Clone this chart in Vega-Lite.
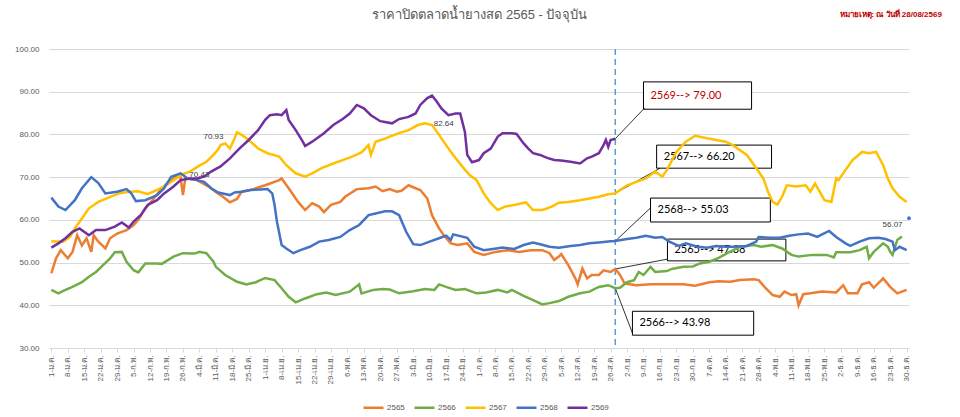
{
  "$schema": "https://vega.github.io/schema/vega-lite/v6.json",
  "autosize": "none",
  "width": 860,
  "height": 299,
  "padding": {"left": 49, "top": 49, "right": 51, "bottom": 69},
  "background": "white",
  "datasets": {
    "prices": [
      {"year": "2565", "day": 0, "value": 47.5}, {"year": "2565", "day": 2, "value": 51}, {"year": "2565", "day": 4, "value": 52.9},
      {"year": "2565", "day": 7, "value": 51}, {"year": "2565", "day": 9, "value": 52.5}, {"year": "2565", "day": 11, "value": 56.4},
      {"year": "2565", "day": 13, "value": 54}, {"year": "2565", "day": 15, "value": 55.7}, {"year": "2565", "day": 17, "value": 52.5},
      {"year": "2565", "day": 18, "value": 56.4}, {"year": "2565", "day": 20, "value": 54.9}, {"year": "2565", "day": 23, "value": 53.3},
      {"year": "2565", "day": 25, "value": 55.7}, {"year": "2565", "day": 28, "value": 56.8}, {"year": "2565", "day": 32, "value": 57.6},
      {"year": "2565", "day": 35, "value": 58.8}, {"year": "2565", "day": 37, "value": 60}, {"year": "2565", "day": 40, "value": 62.7},
      {"year": "2565", "day": 43, "value": 64.6}, {"year": "2565", "day": 47, "value": 67.4}, {"year": "2565", "day": 50, "value": 68.9},
      {"year": "2565", "day": 53, "value": 70.1}, {"year": "2565", "day": 55, "value": 70}, {"year": "2565", "day": 56, "value": 65.8},
      {"year": "2565", "day": 57, "value": 69.7}, {"year": "2565", "day": 62, "value": 69.3}, {"year": "2565", "day": 67, "value": 67.8},
      {"year": "2565", "day": 70, "value": 66.5}, {"year": "2565", "day": 73, "value": 65.4}, {"year": "2565", "day": 76, "value": 64.1},
      {"year": "2565", "day": 79, "value": 64.9}, {"year": "2565", "day": 81, "value": 66.6}, {"year": "2565", "day": 86, "value": 67.2},
      {"year": "2565", "day": 91, "value": 68.1}, {"year": "2565", "day": 97, "value": 69.3}, {"year": "2565", "day": 98, "value": 69.7},
      {"year": "2565", "day": 101, "value": 67.4}, {"year": "2565", "day": 105, "value": 64.2}, {"year": "2565", "day": 108, "value": 62.3},
      {"year": "2565", "day": 111, "value": 63.9}, {"year": "2565", "day": 114, "value": 63.1}, {"year": "2565", "day": 116, "value": 61.8},
      {"year": "2565", "day": 119, "value": 63.5}, {"year": "2565", "day": 123, "value": 64.2}, {"year": "2565", "day": 125, "value": 65.4},
      {"year": "2565", "day": 130, "value": 67.2}, {"year": "2565", "day": 135, "value": 67.4}, {"year": "2565", "day": 138, "value": 67.8},
      {"year": "2565", "day": 141, "value": 66.7}, {"year": "2565", "day": 144, "value": 67.2}, {"year": "2565", "day": 147, "value": 66.6},
      {"year": "2565", "day": 149, "value": 66.8}, {"year": "2565", "day": 152, "value": 68.1}, {"year": "2565", "day": 155, "value": 67.4},
      {"year": "2565", "day": 157, "value": 67}, {"year": "2565", "day": 160, "value": 65}, {"year": "2565", "day": 162, "value": 61.1},
      {"year": "2565", "day": 165, "value": 58}, {"year": "2565", "day": 167, "value": 56.4}, {"year": "2565", "day": 170, "value": 54.5},
      {"year": "2565", "day": 173, "value": 54.1}, {"year": "2565", "day": 177, "value": 54.5}, {"year": "2565", "day": 180, "value": 52.5},
      {"year": "2565", "day": 184, "value": 51.8}, {"year": "2565", "day": 189, "value": 52.5}, {"year": "2565", "day": 194, "value": 52.9},
      {"year": "2565", "day": 199, "value": 52.5}, {"year": "2565", "day": 204, "value": 52.9}, {"year": "2565", "day": 209, "value": 52.9},
      {"year": "2565", "day": 212, "value": 52.2}, {"year": "2565", "day": 214, "value": 50.6}, {"year": "2565", "day": 216, "value": 51.4},
      {"year": "2565", "day": 217, "value": 52}, {"year": "2565", "day": 220, "value": 49.4}, {"year": "2565", "day": 223, "value": 46.3},
      {"year": "2565", "day": 224, "value": 44.9}, {"year": "2565", "day": 226, "value": 48.6}, {"year": "2565", "day": 228, "value": 46.3},
      {"year": "2565", "day": 230, "value": 47.1}, {"year": "2565", "day": 233, "value": 47.1}, {"year": "2565", "day": 235, "value": 48.2},
      {"year": "2565", "day": 238, "value": 47.8}, {"year": "2565", "day": 240, "value": 48.5}, {"year": "2565", "day": 242, "value": 47.1},
      {"year": "2565", "day": 244, "value": 45.1}, {"year": "2565", "day": 249, "value": 44.7}, {"year": "2565", "day": 255, "value": 44.9},
      {"year": "2565", "day": 262, "value": 44.9}, {"year": "2565", "day": 269, "value": 44.9}, {"year": "2565", "day": 274, "value": 44.6},
      {"year": "2565", "day": 280, "value": 45.4}, {"year": "2565", "day": 284, "value": 45.6}, {"year": "2565", "day": 289, "value": 45.5},
      {"year": "2565", "day": 293, "value": 45.9}, {"year": "2565", "day": 299, "value": 46.1}, {"year": "2565", "day": 301, "value": 45.9},
      {"year": "2565", "day": 304, "value": 44}, {"year": "2565", "day": 307, "value": 42.4}, {"year": "2565", "day": 310, "value": 42},
      {"year": "2565", "day": 312, "value": 43.2}, {"year": "2565", "day": 315, "value": 42.4}, {"year": "2565", "day": 317, "value": 42.6},
      {"year": "2565", "day": 318, "value": 40}, {"year": "2565", "day": 320, "value": 42.6}, {"year": "2565", "day": 323, "value": 42.8},
      {"year": "2565", "day": 328, "value": 43.2}, {"year": "2565", "day": 334, "value": 43}, {"year": "2565", "day": 337, "value": 44.7},
      {"year": "2565", "day": 339, "value": 42.8}, {"year": "2565", "day": 343, "value": 42.8}, {"year": "2565", "day": 345, "value": 44.9},
      {"year": "2565", "day": 348, "value": 45.4}, {"year": "2565", "day": 350, "value": 44.1}, {"year": "2565", "day": 354, "value": 46.3},
      {"year": "2565", "day": 357, "value": 44.3}, {"year": "2565", "day": 360, "value": 42.8}, {"year": "2565", "day": 362, "value": 43.2},
      {"year": "2565", "day": 364, "value": 43.6},

      {"year": "2566", "day": 0, "value": 43.6}, {"year": "2566", "day": 3, "value": 42.8}, {"year": "2566", "day": 6, "value": 43.6},
      {"year": "2566", "day": 9, "value": 44.3}, {"year": "2566", "day": 13, "value": 45.4}, {"year": "2566", "day": 16, "value": 46.7},
      {"year": "2566", "day": 19, "value": 47.8}, {"year": "2566", "day": 22, "value": 49.4}, {"year": "2566", "day": 25, "value": 51},
      {"year": "2566", "day": 27, "value": 52.4}, {"year": "2566", "day": 30, "value": 52.5}, {"year": "2566", "day": 32, "value": 50.2},
      {"year": "2566", "day": 35, "value": 48.2}, {"year": "2566", "day": 37, "value": 47.7}, {"year": "2566", "day": 40, "value": 49.8},
      {"year": "2566", "day": 45, "value": 49.8}, {"year": "2566", "day": 47, "value": 49.7}, {"year": "2566", "day": 52, "value": 51.4},
      {"year": "2566", "day": 56, "value": 52.2}, {"year": "2566", "day": 61, "value": 52.1}, {"year": "2566", "day": 63, "value": 52.5},
      {"year": "2566", "day": 66, "value": 52.2}, {"year": "2566", "day": 69, "value": 50.2}, {"year": "2566", "day": 70, "value": 49},
      {"year": "2566", "day": 74, "value": 47.1}, {"year": "2566", "day": 79, "value": 45.5}, {"year": "2566", "day": 83, "value": 44.9},
      {"year": "2566", "day": 87, "value": 45.4}, {"year": "2566", "day": 91, "value": 46.4}, {"year": "2566", "day": 95, "value": 45.9},
      {"year": "2566", "day": 98, "value": 44}, {"year": "2566", "day": 101, "value": 42}, {"year": "2566", "day": 104, "value": 40.7},
      {"year": "2566", "day": 108, "value": 41.6}, {"year": "2566", "day": 113, "value": 42.6}, {"year": "2566", "day": 117, "value": 43},
      {"year": "2566", "day": 121, "value": 42.4}, {"year": "2566", "day": 127, "value": 43.2}, {"year": "2566", "day": 131, "value": 44.9},
      {"year": "2566", "day": 132, "value": 42.8}, {"year": "2566", "day": 137, "value": 43.6}, {"year": "2566", "day": 141, "value": 43.8},
      {"year": "2566", "day": 144, "value": 43.7}, {"year": "2566", "day": 148, "value": 42.8}, {"year": "2566", "day": 154, "value": 43.3},
      {"year": "2566", "day": 159, "value": 43.8}, {"year": "2566", "day": 163, "value": 43.6}, {"year": "2566", "day": 165, "value": 44.9},
      {"year": "2566", "day": 168, "value": 44.3}, {"year": "2566", "day": 172, "value": 43.6}, {"year": "2566", "day": 176, "value": 43.8},
      {"year": "2566", "day": 181, "value": 42.8}, {"year": "2566", "day": 185, "value": 43}, {"year": "2566", "day": 190, "value": 43.6},
      {"year": "2566", "day": 194, "value": 43}, {"year": "2566", "day": 196, "value": 43.6}, {"year": "2566", "day": 201, "value": 42.2},
      {"year": "2566", "day": 205, "value": 41.2}, {"year": "2566", "day": 209, "value": 40.2}, {"year": "2566", "day": 212, "value": 40.5},
      {"year": "2566", "day": 216, "value": 41}, {"year": "2566", "day": 220, "value": 42}, {"year": "2566", "day": 225, "value": 42.8},
      {"year": "2566", "day": 229, "value": 43.2}, {"year": "2566", "day": 233, "value": 44.3}, {"year": "2566", "day": 237, "value": 44.7},
      {"year": "2566", "day": 240, "value": 44}, {"year": "2566", "day": 242, "value": 44.1}, {"year": "2566", "day": 245, "value": 45.4},
      {"year": "2566", "day": 248, "value": 45.9}, {"year": "2566", "day": 250, "value": 47.8}, {"year": "2566", "day": 252, "value": 47.1},
      {"year": "2566", "day": 255, "value": 49}, {"year": "2566", "day": 257, "value": 47.8}, {"year": "2566", "day": 262, "value": 48},
      {"year": "2566", "day": 264, "value": 48.5}, {"year": "2566", "day": 269, "value": 49}, {"year": "2566", "day": 273, "value": 49.1},
      {"year": "2566", "day": 276, "value": 49.8}, {"year": "2566", "day": 280, "value": 50.2}, {"year": "2566", "day": 284, "value": 51.1},
      {"year": "2566", "day": 288, "value": 52.3}, {"year": "2566", "day": 293, "value": 53.7}, {"year": "2566", "day": 299, "value": 54.1},
      {"year": "2566", "day": 302, "value": 53.7}, {"year": "2566", "day": 307, "value": 54.1}, {"year": "2566", "day": 311, "value": 53.3},
      {"year": "2566", "day": 315, "value": 51.8}, {"year": "2566", "day": 318, "value": 51.4}, {"year": "2566", "day": 324, "value": 51.8},
      {"year": "2566", "day": 330, "value": 51.8}, {"year": "2566", "day": 333, "value": 51.2}, {"year": "2566", "day": 334, "value": 52.4},
      {"year": "2566", "day": 340, "value": 52.4}, {"year": "2566", "day": 344, "value": 52.9}, {"year": "2566", "day": 347, "value": 53.7},
      {"year": "2566", "day": 348, "value": 51}, {"year": "2566", "day": 350, "value": 52.5}, {"year": "2566", "day": 354, "value": 54.5},
      {"year": "2566", "day": 356, "value": 53.7}, {"year": "2566", "day": 357, "value": 52.5}, {"year": "2566", "day": 358, "value": 51.8},
      {"year": "2566", "day": 360, "value": 55.3}, {"year": "2566", "day": 362, "value": 56.1},

      {"year": "2567", "day": 0, "value": 55}, {"year": "2567", "day": 5, "value": 54.9}, {"year": "2567", "day": 8, "value": 56},
      {"year": "2567", "day": 10, "value": 58}, {"year": "2567", "day": 13, "value": 60.3}, {"year": "2567", "day": 16, "value": 62.7},
      {"year": "2567", "day": 20, "value": 64.2}, {"year": "2567", "day": 25, "value": 65.4}, {"year": "2567", "day": 29, "value": 66.2},
      {"year": "2567", "day": 33, "value": 66.6}, {"year": "2567", "day": 37, "value": 66.7}, {"year": "2567", "day": 41, "value": 66},
      {"year": "2567", "day": 45, "value": 67}, {"year": "2567", "day": 48, "value": 67.8}, {"year": "2567", "day": 52, "value": 69.3},
      {"year": "2567", "day": 56, "value": 70.7}, {"year": "2567", "day": 59, "value": 71.3}, {"year": "2567", "day": 63, "value": 72.7},
      {"year": "2567", "day": 66, "value": 73.6}, {"year": "2567", "day": 69, "value": 75.2}, {"year": "2567", "day": 71, "value": 76.5},
      {"year": "2567", "day": 72, "value": 77.5}, {"year": "2567", "day": 74, "value": 77.9}, {"year": "2567", "day": 76, "value": 76.7},
      {"year": "2567", "day": 78, "value": 79.1}, {"year": "2567", "day": 79, "value": 80.5}, {"year": "2567", "day": 81, "value": 79.9},
      {"year": "2567", "day": 84, "value": 78.7}, {"year": "2567", "day": 88, "value": 76.7}, {"year": "2567", "day": 92, "value": 75.6},
      {"year": "2567", "day": 97, "value": 74.8}, {"year": "2567", "day": 100, "value": 72.8}, {"year": "2567", "day": 104, "value": 70.9},
      {"year": "2567", "day": 108, "value": 70.1}, {"year": "2567", "day": 111, "value": 70.9}, {"year": "2567", "day": 115, "value": 72.1},
      {"year": "2567", "day": 120, "value": 73.2}, {"year": "2567", "day": 124, "value": 74}, {"year": "2567", "day": 128, "value": 74.8},
      {"year": "2567", "day": 132, "value": 75.8}, {"year": "2567", "day": 135, "value": 77.5}, {"year": "2567", "day": 136, "value": 75.2},
      {"year": "2567", "day": 138, "value": 78.3}, {"year": "2567", "day": 142, "value": 79}, {"year": "2567", "day": 144, "value": 79.5},
      {"year": "2567", "day": 148, "value": 80.3}, {"year": "2567", "day": 152, "value": 81}, {"year": "2567", "day": 156, "value": 82.2},
      {"year": "2567", "day": 159, "value": 82.6}, {"year": "2567", "day": 162, "value": 82.2}, {"year": "2567", "day": 165, "value": 79.9},
      {"year": "2567", "day": 168, "value": 77.5}, {"year": "2567", "day": 171, "value": 75.2}, {"year": "2567", "day": 175, "value": 72.4},
      {"year": "2567", "day": 178, "value": 70.5}, {"year": "2567", "day": 181, "value": 69.3}, {"year": "2567", "day": 184, "value": 66.2},
      {"year": "2567", "day": 187, "value": 63.9}, {"year": "2567", "day": 190, "value": 62.3}, {"year": "2567", "day": 193, "value": 63.1},
      {"year": "2567", "day": 197, "value": 63.5}, {"year": "2567", "day": 202, "value": 64.1}, {"year": "2567", "day": 205, "value": 62.3},
      {"year": "2567", "day": 209, "value": 62.3}, {"year": "2567", "day": 213, "value": 63.1}, {"year": "2567", "day": 216, "value": 64},
      {"year": "2567", "day": 220, "value": 64.2}, {"year": "2567", "day": 225, "value": 64.6}, {"year": "2567", "day": 229, "value": 65},
      {"year": "2567", "day": 233, "value": 65.4}, {"year": "2567", "day": 237, "value": 66}, {"year": "2567", "day": 240, "value": 66.2},
      {"year": "2567", "day": 245, "value": 68.1}, {"year": "2567", "day": 249, "value": 68.9}, {"year": "2567", "day": 253, "value": 69.7},
      {"year": "2567", "day": 257, "value": 71.3}, {"year": "2567", "day": 260, "value": 70.1}, {"year": "2567", "day": 262, "value": 71.7},
      {"year": "2567", "day": 266, "value": 75.9}, {"year": "2567", "day": 270, "value": 78.3}, {"year": "2567", "day": 274, "value": 79.7},
      {"year": "2567", "day": 279, "value": 79.1}, {"year": "2567", "day": 283, "value": 78.7}, {"year": "2567", "day": 287, "value": 78.3},
      {"year": "2567", "day": 290, "value": 77.5}, {"year": "2567", "day": 296, "value": 75.2}, {"year": "2567", "day": 300, "value": 72.1},
      {"year": "2567", "day": 303, "value": 69.7}, {"year": "2567", "day": 305, "value": 66.6}, {"year": "2567", "day": 307, "value": 64.2},
      {"year": "2567", "day": 309, "value": 63.6}, {"year": "2567", "day": 311, "value": 65.4}, {"year": "2567", "day": 313, "value": 68.1},
      {"year": "2567", "day": 317, "value": 67.8}, {"year": "2567", "day": 321, "value": 68.1}, {"year": "2567", "day": 323, "value": 66.6},
      {"year": "2567", "day": 325, "value": 68.5}, {"year": "2567", "day": 327, "value": 66.6}, {"year": "2567", "day": 329, "value": 64.6},
      {"year": "2567", "day": 332, "value": 64.2}, {"year": "2567", "day": 334, "value": 69.7}, {"year": "2567", "day": 335, "value": 69.3},
      {"year": "2567", "day": 338, "value": 71.7}, {"year": "2567", "day": 341, "value": 74}, {"year": "2567", "day": 345, "value": 75.9},
      {"year": "2567", "day": 348, "value": 75.6}, {"year": "2567", "day": 351, "value": 75.9}, {"year": "2567", "day": 354, "value": 72.8},
      {"year": "2567", "day": 356, "value": 69.7}, {"year": "2567", "day": 358, "value": 67.4}, {"year": "2567", "day": 361, "value": 65.4},
      {"year": "2567", "day": 364, "value": 64.2},

      {"year": "2568", "day": 0, "value": 65.2}, {"year": "2568", "day": 3, "value": 63.1}, {"year": "2568", "day": 6, "value": 62.3},
      {"year": "2568", "day": 10, "value": 64.6}, {"year": "2568", "day": 13, "value": 67.4}, {"year": "2568", "day": 17, "value": 70},
      {"year": "2568", "day": 20, "value": 68.6}, {"year": "2568", "day": 23, "value": 66.2}, {"year": "2568", "day": 28, "value": 66.6},
      {"year": "2568", "day": 32, "value": 67.2}, {"year": "2568", "day": 34, "value": 66.2}, {"year": "2568", "day": 36, "value": 64.4},
      {"year": "2568", "day": 40, "value": 64.6}, {"year": "2568", "day": 45, "value": 65.8}, {"year": "2568", "day": 48, "value": 67.4},
      {"year": "2568", "day": 51, "value": 70.1}, {"year": "2568", "day": 55, "value": 70.9}, {"year": "2568", "day": 58, "value": 69.7},
      {"year": "2568", "day": 62, "value": 69.3}, {"year": "2568", "day": 65, "value": 68.9}, {"year": "2568", "day": 68, "value": 67.4},
      {"year": "2568", "day": 71, "value": 66.4}, {"year": "2568", "day": 76, "value": 65.8}, {"year": "2568", "day": 78, "value": 66.4},
      {"year": "2568", "day": 81, "value": 66.6}, {"year": "2568", "day": 85, "value": 67}, {"year": "2568", "day": 89, "value": 67.1},
      {"year": "2568", "day": 92, "value": 67.2}, {"year": "2568", "day": 94, "value": 66.2}, {"year": "2568", "day": 95, "value": 63.5},
      {"year": "2568", "day": 96, "value": 59.6}, {"year": "2568", "day": 98, "value": 54.1}, {"year": "2568", "day": 100, "value": 53.3},
      {"year": "2568", "day": 103, "value": 52.2}, {"year": "2568", "day": 106, "value": 52.9}, {"year": "2568", "day": 110, "value": 53.7},
      {"year": "2568", "day": 114, "value": 54.9}, {"year": "2568", "day": 118, "value": 55.3}, {"year": "2568", "day": 123, "value": 56},
      {"year": "2568", "day": 127, "value": 57.6}, {"year": "2568", "day": 131, "value": 58.8}, {"year": "2568", "day": 135, "value": 61.1},
      {"year": "2568", "day": 138, "value": 61.5}, {"year": "2568", "day": 142, "value": 62}, {"year": "2568", "day": 145, "value": 62},
      {"year": "2568", "day": 148, "value": 61.1}, {"year": "2568", "day": 151, "value": 57.2}, {"year": "2568", "day": 154, "value": 54.3},
      {"year": "2568", "day": 157, "value": 54.1}, {"year": "2568", "day": 161, "value": 54.9}, {"year": "2568", "day": 165, "value": 55.7},
      {"year": "2568", "day": 168, "value": 56.3}, {"year": "2568", "day": 170, "value": 55.3}, {"year": "2568", "day": 171, "value": 56.6},
      {"year": "2568", "day": 177, "value": 55.8}, {"year": "2568", "day": 180, "value": 53.7}, {"year": "2568", "day": 184, "value": 52.9},
      {"year": "2568", "day": 188, "value": 53.2}, {"year": "2568", "day": 192, "value": 53.5}, {"year": "2568", "day": 197, "value": 53.2},
      {"year": "2568", "day": 201, "value": 54.1}, {"year": "2568", "day": 205, "value": 54.7}, {"year": "2568", "day": 208, "value": 54.3},
      {"year": "2568", "day": 212, "value": 53.7}, {"year": "2568", "day": 216, "value": 53.5}, {"year": "2568", "day": 221, "value": 53.9},
      {"year": "2568", "day": 225, "value": 54.1}, {"year": "2568", "day": 229, "value": 54.5}, {"year": "2568", "day": 233, "value": 54.7},
      {"year": "2568", "day": 238, "value": 55}, {"year": "2568", "day": 240, "value": 55.03}, {"year": "2568", "day": 245, "value": 55.5},
      {"year": "2568", "day": 249, "value": 55.8}, {"year": "2568", "day": 253, "value": 56.3}, {"year": "2568", "day": 257, "value": 55.8},
      {"year": "2568", "day": 260, "value": 56}, {"year": "2568", "day": 263, "value": 54.9}, {"year": "2568", "day": 267, "value": 53.9},
      {"year": "2568", "day": 270, "value": 54.5}, {"year": "2568", "day": 275, "value": 53.7}, {"year": "2568", "day": 279, "value": 53.5},
      {"year": "2568", "day": 283, "value": 53.9}, {"year": "2568", "day": 287, "value": 53.7}, {"year": "2568", "day": 290, "value": 53.7},
      {"year": "2568", "day": 296, "value": 53.9}, {"year": "2568", "day": 300, "value": 54.9}, {"year": "2568", "day": 301, "value": 56},
      {"year": "2568", "day": 306, "value": 55.8}, {"year": "2568", "day": 310, "value": 55.8}, {"year": "2568", "day": 314, "value": 56.3},
      {"year": "2568", "day": 318, "value": 56.6}, {"year": "2568", "day": 322, "value": 56.8}, {"year": "2568", "day": 326, "value": 56},
      {"year": "2568", "day": 328, "value": 56.6}, {"year": "2568", "day": 331, "value": 57.4}, {"year": "2568", "day": 334, "value": 56},
      {"year": "2568", "day": 338, "value": 54.5}, {"year": "2568", "day": 340, "value": 53.9}, {"year": "2568", "day": 344, "value": 54.9},
      {"year": "2568", "day": 348, "value": 55.7}, {"year": "2568", "day": 352, "value": 55.8}, {"year": "2568", "day": 355, "value": 55.5},
      {"year": "2568", "day": 358, "value": 54.9}, {"year": "2568", "day": 359, "value": 52.9}, {"year": "2568", "day": 361, "value": 53.7},
      {"year": "2568", "day": 364, "value": 52.9},

      {"year": "2569", "day": 0, "value": 53.5}, {"year": "2569", "day": 3, "value": 54.5}, {"year": "2569", "day": 6, "value": 55.7},
      {"year": "2569", "day": 9, "value": 57.2}, {"year": "2569", "day": 12, "value": 58}, {"year": "2569", "day": 16, "value": 56.4},
      {"year": "2569", "day": 19, "value": 57.6}, {"year": "2569", "day": 23, "value": 57.6}, {"year": "2569", "day": 27, "value": 58.4},
      {"year": "2569", "day": 30, "value": 59.4}, {"year": "2569", "day": 33, "value": 58.2}, {"year": "2569", "day": 35, "value": 59.6},
      {"year": "2569", "day": 38, "value": 61.1}, {"year": "2569", "day": 41, "value": 63.5}, {"year": "2569", "day": 45, "value": 64.6},
      {"year": "2569", "day": 48, "value": 66.2}, {"year": "2569", "day": 52, "value": 67.8}, {"year": "2569", "day": 55, "value": 69.3},
      {"year": "2569", "day": 59, "value": 69.7}, {"year": "2569", "day": 62, "value": 69.7}, {"year": "2569", "day": 65, "value": 70.1},
      {"year": "2569", "day": 68, "value": 71.3}, {"year": "2569", "day": 72, "value": 72.5}, {"year": "2569", "day": 76, "value": 74.4},
      {"year": "2569", "day": 80, "value": 76.7}, {"year": "2569", "day": 84, "value": 78.7}, {"year": "2569", "day": 88, "value": 81},
      {"year": "2569", "day": 91, "value": 83.4}, {"year": "2569", "day": 93, "value": 84.5}, {"year": "2569", "day": 96, "value": 84.7},
      {"year": "2569", "day": 98, "value": 84.5}, {"year": "2569", "day": 100, "value": 85.7}, {"year": "2569", "day": 101, "value": 83.4},
      {"year": "2569", "day": 104, "value": 81}, {"year": "2569", "day": 107, "value": 78.3}, {"year": "2569", "day": 108, "value": 77.3},
      {"year": "2569", "day": 111, "value": 78.3}, {"year": "2569", "day": 116, "value": 80.3}, {"year": "2569", "day": 120, "value": 82.2},
      {"year": "2569", "day": 124, "value": 83.6}, {"year": "2569", "day": 127, "value": 84.9}, {"year": "2569", "day": 130, "value": 86.9},
      {"year": "2569", "day": 133, "value": 86.1}, {"year": "2569", "day": 136, "value": 84.5}, {"year": "2569", "day": 140, "value": 83.1},
      {"year": "2569", "day": 142, "value": 82.9}, {"year": "2569", "day": 145, "value": 82.6}, {"year": "2569", "day": 148, "value": 83.6},
      {"year": "2569", "day": 152, "value": 84.1}, {"year": "2569", "day": 155, "value": 84.9}, {"year": "2569", "day": 157, "value": 86.9},
      {"year": "2569", "day": 160, "value": 88.5}, {"year": "2569", "day": 162, "value": 89.1}, {"year": "2569", "day": 164, "value": 87.7},
      {"year": "2569", "day": 166, "value": 86.1}, {"year": "2569", "day": 169, "value": 84.5}, {"year": "2569", "day": 172, "value": 84.9},
      {"year": "2569", "day": 174, "value": 84.9}, {"year": "2569", "day": 176, "value": 80.6}, {"year": "2569", "day": 177, "value": 75.2},
      {"year": "2569", "day": 179, "value": 73.5}, {"year": "2569", "day": 182, "value": 74}, {"year": "2569", "day": 184, "value": 75.6},
      {"year": "2569", "day": 187, "value": 76.7}, {"year": "2569", "day": 190, "value": 79.5}, {"year": "2569", "day": 192, "value": 80.3},
      {"year": "2569", "day": 196, "value": 80.3}, {"year": "2569", "day": 198, "value": 80.1}, {"year": "2569", "day": 201, "value": 77.9},
      {"year": "2569", "day": 203, "value": 76.7}, {"year": "2569", "day": 205, "value": 75.6}, {"year": "2569", "day": 208, "value": 75.2},
      {"year": "2569", "day": 211, "value": 74.5}, {"year": "2569", "day": 214, "value": 74}, {"year": "2569", "day": 217, "value": 73.9},
      {"year": "2569", "day": 221, "value": 73.6}, {"year": "2569", "day": 225, "value": 73.2}, {"year": "2569", "day": 228, "value": 74.4},
      {"year": "2569", "day": 230, "value": 74.8}, {"year": "2569", "day": 233, "value": 75.6}, {"year": "2569", "day": 235, "value": 77.5},
      {"year": "2569", "day": 236, "value": 78.7}, {"year": "2569", "day": 237, "value": 77.1}, {"year": "2569", "day": 238, "value": 78.7},
      {"year": "2569", "day": 240, "value": 79}
    ],
    "callouts": [
      {"series": "2569", "text": "2569--> 79.00", "day": 240, "value": 79.0, "endDay": 252.5, "endValue": 86.2, "boxDay": 252, "boxDay2": 298, "boxValue": 85.9, "boxValue2": 92.3, "textValue": 89.1},
      {"series": "2567", "text": "2567--> 66.20", "day": 240, "value": 66.2, "endDay": 259, "endValue": 72.1, "boxDay": 257.6, "boxDay2": 306.5, "boxValue": 72.1, "boxValue2": 77.5, "textValue": 74.8},
      {"series": "2568", "text": "2568--> 55.03", "day": 240, "value": 55.03, "endDay": 255, "endValue": 62.8, "boxDay": 255, "boxDay2": 306, "boxValue": 59.5, "boxValue2": 65.1, "textValue": 62.3},
      {"series": "2565", "text": "2565--> 47.38", "day": 240, "value": 48.5, "endDay": 262.2, "endValue": 50.8, "boxDay": 262.2, "boxDay2": 312.6, "boxValue": 50.4, "boxValue2": 55.5, "textValue": 52.9},
      {"series": "2566", "text": "2566--> 43.98", "day": 240, "value": 44.0, "endDay": 247.3, "endValue": 33.5, "boxDay": 247.3, "boxDay2": 298.9, "boxValue": 33.0, "boxValue2": 38.6, "textValue": 35.8}
    ],
    "labels": [
      {"text": "70.93", "day": 69, "value": 79.4},
      {"text": "70.43", "day": 63, "value": 70.5},
      {"text": "82.64", "day": 167, "value": 82.4},
      {"text": "56.07", "day": 358, "value": 58.8}
    ],
    "marker": [
      {"day": 365, "value": 60.4}
    ],
    "heading": [
      {"text": "ราคาปิดตลาดน้ำยางสด 2565 - ปัจจุบัน", "day": 182.4, "value": 108}
    ],
    "note": [
      {"text": "หมายเหตุ: ณ วันที่ 28/08/2569", "day": 379, "value": 108}
    ],
    "cutoff": [
      {"day": 240}
    ]
  },
  "layer": [
    {
      "data": {"name": "cutoff"},
      "mark": {"type": "rule", "color": "#5B9BD5", "strokeDash": [6, 4], "strokeWidth": 1.5},
      "encoding": {
        "x": {"field": "day", "type": "quantitative", "title": null, "scale": {"domain": [-1, 365], "nice": false, "zero": false}}
      }
    },
    {
      "data": {"name": "callouts"},
      "mark": {"type": "rect", "fill": "white", "stroke": "black", "strokeWidth": 1},
      "encoding": {
        "x": {"field": "boxDay", "type": "quantitative", "title": null, "scale": {"domain": [-1, 365], "nice": false, "zero": false}},
        "x2": {"field": "boxDay2"},
        "y": {"field": "boxValue", "type": "quantitative", "title": null, "scale": {"domain": [30, 100], "nice": false, "zero": false}},
        "y2": {"field": "boxValue2"}
      }
    },
    {
      "data": {"name": "callouts"},
      "mark": {"type": "text", "align": "left", "baseline": "middle", "dx": 7, "fontSize": 11, "font": "Lato"},
      "encoding": {
        "x": {"field": "boxDay", "type": "quantitative", "title": null, "scale": {"domain": [-1, 365], "nice": false, "zero": false}},
        "y": {"field": "textValue", "type": "quantitative", "title": null, "scale": {"domain": [30, 100], "nice": false, "zero": false}},
        "text": {"field": "text"},
        "color": {"condition": {"test": "datum.series === '2569'", "value": "#C00000"}, "value": "#000000"}
      }
    },
    {
      "data": {"name": "callouts"},
      "mark": {"type": "rule", "color": "#000000", "strokeWidth": 0.8},
      "encoding": {
        "x": {"field": "day", "type": "quantitative", "title": null, "scale": {"domain": [-1, 365], "nice": false, "zero": false}},
        "x2": {"field": "endDay"},
        "y": {"field": "value", "type": "quantitative", "title": null, "scale": {"domain": [30, 100], "nice": false, "zero": false}},
        "y2": {"field": "endValue"}
      }
    },
    {
      "data": {"name": "prices"},
      "mark": {"type": "line", "strokeWidth": 2.5, "interpolate": "linear"},
      "encoding": {
        "x": {
          "field": "day", "type": "quantitative", "title": null,
          "scale": {"domain": [-1, 365], "nice": false, "zero": false},
          "axis": {
            "values": [0, 7, 14, 21, 28, 35, 42, 49, 56, 63, 70, 77, 84, 91, 98, 105, 112, 119, 126, 133, 140, 147, 154, 161, 168, 175, 182, 189, 196, 203, 210, 217, 224, 231, 238, 245, 252, 259, 266, 273, 280, 287, 294, 301, 308, 315, 322, 329, 336, 343, 350, 357, 364],
            "tickCount": 60,
            "labelExpr": "date(datetime(2024, 0, 1 + datum.value)) + '-' + ['ม.ค.','ก.พ.','มี.ค.','เม.ย.','พ.ค.','มิ.ย.','ก.ค.','ส.ค.','ก.ย.','ต.ค.','พ.ย.','ธ.ค.'][month(datetime(2024, 0, 1 + datum.value))]",
            "labelAngle": -90,
            "labelFontSize": 8,
            "labelColor": "#595959",
            "labelOverlap": false,
            "labelPadding": 3,
            "grid": false,
            "ticks": true,
            "tickSize": 4,
            "tickColor": "#d9d9d9",
            "domainColor": "#d9d9d9"
          }
        },
        "y": {
          "field": "value", "type": "quantitative", "title": null,
          "scale": {"domain": [30, 100], "nice": false, "zero": false},
          "axis": {
            "values": [30, 40, 50, 60, 70, 80, 90, 100],
            "tickCount": 10,
            "format": ".2f",
            "grid": true,
            "gridColor": "#d9d9d9",
            "domain": false,
            "ticks": false,
            "labelFontSize": 8,
            "labelColor": "#595959",
            "labelPadding": 10
          }
        },
        "color": {
          "field": "year", "type": "nominal",
          "scale": {"domain": ["2565", "2566", "2567", "2568", "2569"], "range": ["#ED7D31", "#70AD47", "#FFC000", "#4472C4", "#7030A0"]},
          "legend": {
            "title": null,
            "orient": "none",
            "legendX": 313,
            "legendY": 347,
            "direction": "horizontal",
            "symbolType": "stroke",
            "symbolSize": 400,
            "symbolStrokeWidth": 2.5,
            "labelFontSize": 8,
            "labelColor": "#595959",
            "labelOffset": 2,
            "columnPadding": 4
          }
        }
      }
    },
    {
      "data": {"name": "labels"},
      "mark": {"type": "text", "fontSize": 8, "color": "#404040", "baseline": "middle"},
      "encoding": {
        "x": {"field": "day", "type": "quantitative", "title": null, "scale": {"domain": [-1, 365], "nice": false, "zero": false}},
        "y": {"field": "value", "type": "quantitative", "title": null, "scale": {"domain": [30, 100], "nice": false, "zero": false}},
        "text": {"field": "text"}
      }
    },
    {
      "data": {"name": "marker"},
      "mark": {"type": "point", "filled": true, "color": "#4472C4", "size": 14, "opacity": 1},
      "encoding": {
        "x": {"field": "day", "type": "quantitative", "title": null, "scale": {"domain": [-1, 365], "nice": false, "zero": false}},
        "y": {"field": "value", "type": "quantitative", "title": null, "scale": {"domain": [30, 100], "nice": false, "zero": false}}
      }
    },
    {
      "data": {"name": "heading"},
      "mark": {"type": "text", "align": "center", "baseline": "middle", "fontSize": 13, "color": "#595959"},
      "encoding": {
        "x": {"field": "day", "type": "quantitative", "title": null, "scale": {"domain": [-1, 365], "nice": false, "zero": false}},
        "y": {"field": "value", "type": "quantitative", "title": null, "scale": {"domain": [30, 100], "nice": false, "zero": false}},
        "text": {"field": "text"}
      }
    },
    {
      "data": {"name": "note"},
      "mark": {"type": "text", "align": "right", "baseline": "middle", "fontSize": 8, "fontWeight": "bold", "color": "#C00000"},
      "encoding": {
        "x": {"field": "day", "type": "quantitative", "title": null, "scale": {"domain": [-1, 365], "nice": false, "zero": false}},
        "y": {"field": "value", "type": "quantitative", "title": null, "scale": {"domain": [30, 100], "nice": false, "zero": false}},
        "text": {"field": "text"}
      }
    }
  ],
  "config": {
    "view": {"stroke": null},
    "font": "Liberation Sans"
  }
}
